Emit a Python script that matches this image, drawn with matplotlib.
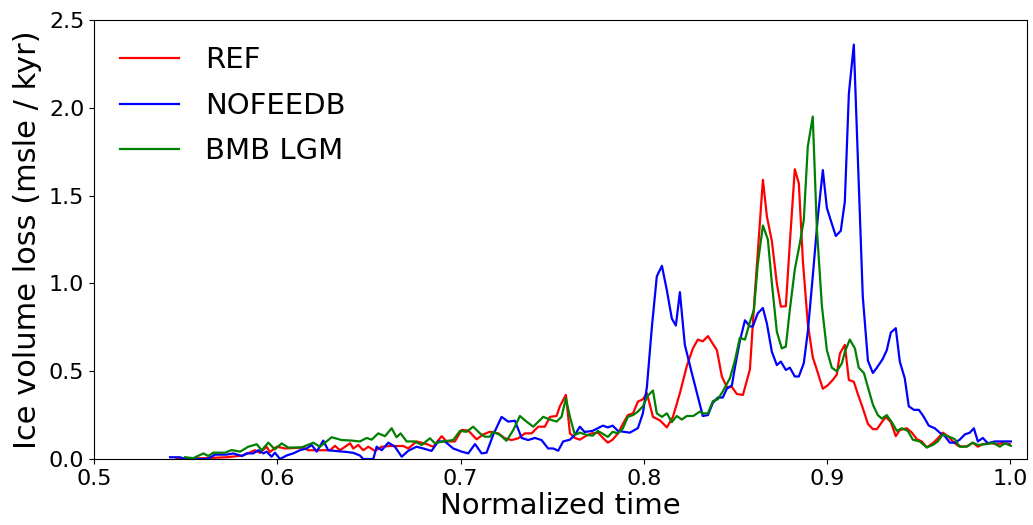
import matplotlib
matplotlib.use("Agg")
import matplotlib.pyplot as plt

# ---------------- data ----------------
ref_t = [0.545, 0.560, 0.5724, 0.5813, 0.5878, 0.5906, 0.5942, 0.5960, 0.5997, 0.6042,
         0.6142, 0.6169, 0.6233, 0.6288, 0.6315, 0.6342, 0.6379, 0.6397, 0.6415, 0.6442,
         0.6469, 0.6497, 0.6533, 0.6570, 0.6615, 0.6688, 0.6715, 0.6760, 0.6815, 0.6851,
         0.6897, 0.6924, 0.6969, 0.7006, 0.7042, 0.7088, 0.7124, 0.7160, 0.7206, 0.7242,
         0.7279, 0.7315, 0.7351, 0.7388, 0.7424, 0.7460, 0.7488, 0.7524, 0.7542, 0.7575,
         0.7597, 0.7624, 0.7651, 0.7690, 0.7717, 0.7750, 0.7777, 0.7804, 0.7830, 0.7859,
         0.7886, 0.7913, 0.7941, 0.7968, 0.7995, 0.8017, 0.8050, 0.8088, 0.8126, 0.8159,
         0.8197, 0.8235, 0.8268, 0.8295, 0.8322, 0.8350, 0.8399, 0.8426, 0.8453, 0.8481,
         0.8508, 0.8541, 0.8579, 0.8606, 0.8633, 0.8650, 0.8672, 0.8699, 0.8726, 0.8748,
         0.8775, 0.8797, 0.8824, 0.8846, 0.8868, 0.8895, 0.8922, 0.8950, 0.8977, 0.9004,
         0.9031, 0.9053, 0.9070, 0.9097, 0.9119, 0.9146, 0.9168, 0.9195, 0.9223, 0.9250,
         0.9272, 0.9299, 0.9321, 0.9348, 0.9375, 0.9397, 0.9435, 0.9463, 0.9490, 0.9517,
         0.9544, 0.9577, 0.9604, 0.9632, 0.9659, 0.9686, 0.9714, 0.9741, 0.9768, 0.9795,
         0.9823, 0.9850, 0.9888, 0.9926, 0.9959, 0.9997]
ref_v = [0.0, 0.005, 0.01, 0.02, 0.05, 0.035, 0.07, 0.04, 0.07, 0.06,
         0.065, 0.05, 0.05, 0.05, 0.075, 0.05, 0.076, 0.09, 0.06, 0.08,
         0.05, 0.07, 0.046, 0.07, 0.074, 0.074, 0.06, 0.10, 0.085, 0.07,
         0.13, 0.10, 0.10, 0.165, 0.162, 0.112, 0.14, 0.155, 0.146, 0.118,
         0.108, 0.118, 0.146, 0.146, 0.184, 0.184, 0.24, 0.245, 0.30, 0.365,
         0.146, 0.12, 0.11, 0.135, 0.146, 0.15, 0.12, 0.093, 0.11, 0.146,
         0.20, 0.25, 0.26, 0.327, 0.34, 0.375, 0.24, 0.22, 0.18, 0.24,
         0.375, 0.53, 0.63, 0.68, 0.67, 0.70, 0.62, 0.47, 0.41, 0.41,
         0.37, 0.365, 0.51, 0.94, 1.34, 1.59, 1.38, 1.24, 1.00, 0.868,
         0.87, 1.23, 1.65, 1.57, 1.13, 0.77, 0.58, 0.49, 0.40, 0.42,
         0.45, 0.48, 0.60, 0.65, 0.45, 0.44, 0.37, 0.29, 0.20, 0.17,
         0.17, 0.21, 0.24, 0.21, 0.13, 0.165, 0.175, 0.15, 0.113, 0.10,
         0.066, 0.09, 0.117, 0.15, 0.13, 0.10, 0.076, 0.07, 0.075, 0.093,
         0.07, 0.085, 0.09, 0.085, 0.09, 0.085]

nofeedb_t = [0.5415, 0.5469, 0.5496, 0.5615, 0.5633, 0.5660, 0.5724, 0.5760, 0.5806, 0.5833,
             0.5869, 0.5897, 0.5924, 0.5942, 0.5969, 0.5987, 0.6015, 0.6051, 0.6087, 0.6124,
             0.6160, 0.6188, 0.6215, 0.6251, 0.6278, 0.6324, 0.6379, 0.6415, 0.6451, 0.6469,
             0.6524, 0.6542, 0.6570, 0.6606, 0.6642, 0.6679, 0.6715, 0.6760, 0.6797, 0.6842,
             0.6878, 0.6915, 0.6960, 0.7006, 0.7042, 0.7079, 0.7115, 0.7142, 0.7178, 0.7224,
             0.7260, 0.7297, 0.7333, 0.7369, 0.7406, 0.7442, 0.7478, 0.7506, 0.7533, 0.7560,
             0.7597, 0.7624, 0.7651, 0.7677, 0.7720, 0.7777, 0.7804, 0.7830, 0.7859, 0.7924,
             0.7968, 0.7995, 0.8017, 0.8044, 0.8071, 0.8099, 0.8126, 0.8153, 0.8175, 0.8197,
             0.8224, 0.8262, 0.8295, 0.8322, 0.8350, 0.8377, 0.8404, 0.8431, 0.8453, 0.8481,
             0.8497, 0.8524, 0.8552, 0.8579, 0.8595, 0.8622, 0.8650, 0.8672, 0.8699, 0.8726,
             0.8748, 0.8775, 0.8797, 0.8824, 0.8846, 0.8873, 0.8895, 0.8922, 0.8950, 0.8977,
             0.8999, 0.9026, 0.9048, 0.9075, 0.9097, 0.9119, 0.9146, 0.9168, 0.9195, 0.9223,
             0.9250, 0.9272, 0.9304, 0.9326, 0.9348, 0.9375, 0.9397, 0.9424, 0.9446, 0.9474,
             0.9501, 0.9528, 0.9555, 0.9588, 0.9615, 0.9643, 0.9670, 0.9697, 0.9724, 0.9752,
             0.9779, 0.9801, 0.9823, 0.9850, 0.9877, 0.9915, 0.9943, 1.0003]
nofeedb_v = [0.01, 0.01, 0.0, 0.0, 0.008, 0.025, 0.025, 0.032, 0.017, 0.032,
             0.032, 0.05, 0.032, 0.042, 0.013, 0.036, 0.0, 0.02, 0.032, 0.05,
             0.06, 0.08, 0.042, 0.105, 0.05, 0.045, 0.04, 0.035, 0.02, 0.0,
             0.0, 0.07, 0.05, 0.093, 0.07, 0.013, 0.047, 0.07, 0.06, 0.046,
             0.10, 0.10, 0.06, 0.042, 0.032, 0.085, 0.032, 0.036, 0.137, 0.24,
             0.213, 0.218, 0.12, 0.108, 0.12, 0.108, 0.06, 0.06, 0.047, 0.10,
             0.11, 0.137, 0.184, 0.154, 0.16, 0.19, 0.18, 0.19, 0.16, 0.15,
             0.176, 0.26, 0.41, 0.75, 1.04, 1.10, 0.96, 0.80, 0.76, 0.95,
             0.65, 0.49, 0.356, 0.245, 0.25, 0.32, 0.35, 0.35, 0.40, 0.42,
             0.52, 0.67, 0.79, 0.755, 0.755, 0.83, 0.86, 0.77, 0.61, 0.535,
             0.555, 0.507, 0.52, 0.47, 0.47, 0.545, 0.725, 1.04, 1.38, 1.645,
             1.43, 1.34, 1.27, 1.30, 1.465, 2.08, 2.36, 1.72, 0.925, 0.56,
             0.49, 0.52, 0.57, 0.62, 0.72, 0.745, 0.555, 0.46, 0.30, 0.28,
             0.28, 0.24, 0.19, 0.175, 0.15, 0.13, 0.093, 0.093, 0.11, 0.14,
             0.15, 0.175, 0.10, 0.12, 0.09, 0.10, 0.10, 0.10]

bmb_t = [0.5496, 0.5542, 0.5597, 0.5624, 0.5651, 0.5715, 0.5751, 0.5797, 0.5842, 0.5888,
         0.5915, 0.5951, 0.5987, 0.6024, 0.6060, 0.6133, 0.6197, 0.6233, 0.6297, 0.6351,
         0.6406, 0.6451, 0.6488, 0.6515, 0.6551, 0.6588, 0.6624, 0.6651, 0.6673, 0.6706,
         0.6751, 0.6788, 0.6833, 0.6860, 0.6906, 0.6960, 0.6997, 0.7033, 0.7069, 0.7106,
         0.7133, 0.7160, 0.7178, 0.7215, 0.7251, 0.7288, 0.7324, 0.7360, 0.7397, 0.7451,
         0.7488, 0.7524, 0.7551, 0.7575, 0.7597, 0.7624, 0.7651, 0.7690, 0.7722, 0.7750,
         0.7804, 0.7830, 0.7859, 0.7886, 0.7913, 0.7941, 0.7968, 0.7995, 0.8022, 0.8050,
         0.8071, 0.8099, 0.8126, 0.8153, 0.8180, 0.8207, 0.8235, 0.8270, 0.8306, 0.8322,
         0.8350, 0.8377, 0.8404, 0.8431, 0.8470, 0.8497, 0.8524, 0.8552, 0.8579, 0.8601,
         0.8622, 0.8650, 0.8677, 0.8699, 0.8726, 0.8753, 0.8775, 0.8797, 0.8824, 0.8852,
         0.8873, 0.8895, 0.8922, 0.8944, 0.8972, 0.8999, 0.9026, 0.9053, 0.9081, 0.9097,
         0.9124, 0.9152, 0.9173, 0.9201, 0.9223, 0.9250, 0.9277, 0.9299, 0.9326, 0.9353,
         0.9381, 0.9408, 0.9441, 0.9468, 0.9506, 0.9544, 0.9577, 0.9604, 0.9632, 0.9659,
         0.9697, 0.9724, 0.9763, 0.9795, 0.9823, 0.9872, 0.9905, 0.9943, 0.9970, 1.0003]
bmb_v = [0.01, 0.005, 0.032, 0.017, 0.036, 0.036, 0.051, 0.042, 0.07, 0.084,
         0.05, 0.093, 0.055, 0.089, 0.065, 0.066, 0.093, 0.07, 0.124, 0.108,
         0.105, 0.10, 0.12, 0.11, 0.146, 0.13, 0.175, 0.124, 0.146, 0.10,
         0.10, 0.08, 0.118, 0.09, 0.10, 0.108, 0.16, 0.155, 0.184, 0.146,
         0.127, 0.127, 0.155, 0.137, 0.104, 0.165, 0.245, 0.213, 0.184, 0.24,
         0.225, 0.213, 0.24, 0.345, 0.24, 0.137, 0.15, 0.137, 0.133, 0.16,
         0.126, 0.155, 0.146, 0.175, 0.24, 0.25, 0.27, 0.30, 0.36, 0.39,
         0.26, 0.24, 0.26, 0.21, 0.245, 0.225, 0.245, 0.245, 0.27, 0.26,
         0.26, 0.33, 0.34, 0.385, 0.46, 0.56, 0.69, 0.68, 0.78, 0.85,
         1.11, 1.33, 1.25, 1.00, 0.725, 0.63, 0.64, 0.85, 1.08, 1.23,
         1.36, 1.78, 1.95, 1.32, 0.87, 0.62, 0.52, 0.50, 0.545, 0.61,
         0.68, 0.63, 0.52, 0.49, 0.41, 0.31, 0.25, 0.23, 0.25, 0.21,
         0.16, 0.175, 0.16, 0.11, 0.10, 0.066, 0.08, 0.10, 0.14, 0.13,
         0.113, 0.07, 0.07, 0.093, 0.08, 0.085, 0.093, 0.07, 0.09, 0.075]

series_labels = ["REF", "NOFEEDB", "BMB LGM"]
x_ticks = [0.5, 0.6, 0.7, 0.8, 0.9, 1.0]
y_ticks = [0.0, 0.5, 1.0, 1.5, 2.0, 2.5]

# ---------------- plot ----------------
plt.rcParams['font.family'] = ['DejaVu Sans']
fig = plt.figure(figsize=(10.33, 5.25), dpi=100)
ax = fig.add_axes([0.091, 0.1257, 0.903, 0.8362])

ax.plot(ref_t, ref_v, color='red', lw=1.6, label=series_labels[0])
ax.plot(nofeedb_t, nofeedb_v, color='blue', lw=1.6, label=series_labels[1])
ax.plot(bmb_t, bmb_v, color='green', lw=1.6, label=series_labels[2])

ax.set_xlim(0.5, 1.009)
ax.set_ylim(0.0, 2.5)
ax.set_xticks(x_ticks)
ax.set_yticks(y_ticks)
ax.set_xticklabels([f"{v:.1f}" for v in x_ticks])
ax.set_yticklabels([f"{v:.1f}" for v in y_ticks])
ax.tick_params(labelsize=16)
ax.set_xlabel("Normalized time", fontsize=21, labelpad=2)
ax.set_ylabel("Ice volume loss (msle / kyr)", fontsize=22, labelpad=5)

leg = ax.legend(loc='upper left', frameon=False, fontsize=21,
                handlelength=2.0, borderaxespad=0.5, labelspacing=0.6,
                handletextpad=0.9)

fig.savefig("out.png", dpi=100)
